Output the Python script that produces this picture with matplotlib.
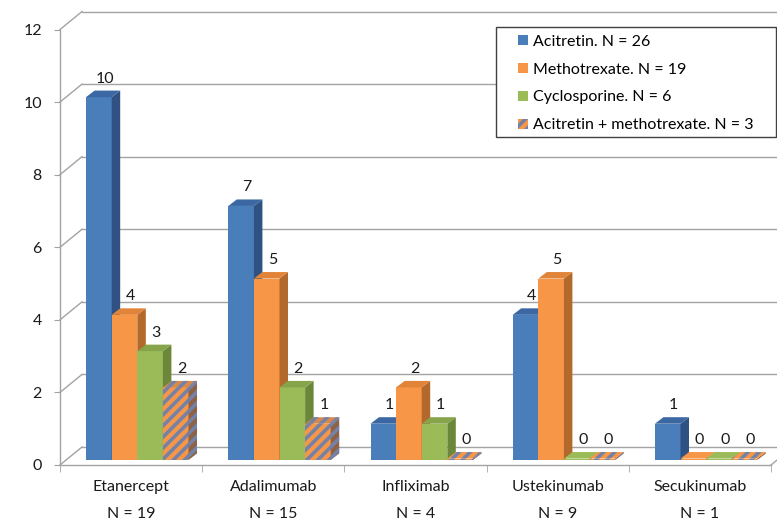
import matplotlib
matplotlib.use('Agg')
import matplotlib.pyplot as plt
from matplotlib.patches import Polygon, Patch, Rectangle

plt.rcParams['font.family'] = ['Lato', 'DejaVu Sans']
plt.rcParams['hatch.linewidth'] = 2.6

# Biologic switches by prior systemic treatment
categories = ['Etanercept', 'Adalimumab', 'Infliximab', 'Ustekinumab', 'Secukinumab']
category_n = [19, 15, 4, 9, 1]

series_names = ['Acitretin. N = 26', 'Methotrexate. N = 19',
                'Cyclosporine. N = 6', 'Acitretin + methotrexate. N = 3']
acitretin = [10, 7, 1, 4, 1]
methotrexate = [4, 5, 2, 5, 0]
cyclosporine = [3, 2, 1, 0, 0]
acitretin_mtx = [2, 1, 0, 0, 0]
series_values = [acitretin, methotrexate, cyclosporine, acitretin_mtx]

# (front, top, side) face colours per series
face_colors = [
    ('#4A7EBB', '#3B68A3', '#2F5283'),
    ('#F79646', '#E1843A', '#B3682C'),
    ('#9BBB59', '#86A44A', '#6B883A'),
    ('#F79646', '#D88A4C', '#8E6245'),
]
hatch_colors = [None, None, None, '#7482A8']

FONT = 11.5
GRID = '#A3A3A3'
TEXT = '#1A1A1A'

W, H = 777, 520
fig = plt.figure(figsize=(W / 100, H / 100), dpi=100)
ax_h = 465 - 29.5
ax = fig.add_axes([60 / W, (H - 465) / H, 711 / W, ax_h / H])
ax.set_xlim(-0.5, 4.5)
ax.set_ylim(0, 12)

px_x = 711 / 5.0     # pixels per category
px_y = ax_h / 12.0   # pixels per unit value

# pseudo-3D depth of the wall and of the columns
wall_dx, wall_dy = 22 / px_x, 18 / px_y
bar_dx, bar_dy = 8.5 / px_x, 6.5 / px_y
bar_base = 5 / px_y          # columns stand half-way back on the floor
bar_w = 25.6 / px_x
first_off = -45 / px_x

# back wall gridlines and left wall diagonals
for v in range(0, 13, 2):
    ax.plot([-0.5, -0.5 + wall_dx], [v, v + wall_dy], color=GRID, lw=1,
            clip_on=False, zorder=1)
    ax.plot([-0.5 + wall_dx, 4.5 + wall_dx], [v + wall_dy, v + wall_dy],
            color=GRID, lw=1, clip_on=False, zorder=1)
ax.plot([4.5, 4.5 + wall_dx], [0, wall_dy], color=GRID, lw=1,
        clip_on=False, zorder=1)


def add_face(pts, color, hatch_color, z):
    if hatch_color:
        p = Polygon(pts, closed=True, facecolor=color, edgecolor=hatch_color,
                    hatch='///', lw=0, zorder=z, clip_on=False)
    else:
        p = Polygon(pts, closed=True, facecolor=color, edgecolor='none',
                    lw=0, zorder=z, clip_on=False)
    ax.add_patch(p)


for i in range(len(categories)):
    for k, vals in enumerate(series_values):
        v = vals[i]
        x0 = i + first_off + k * bar_w
        x1 = x0 + bar_w
        front_c, top_c, side_c = face_colors[k]
        hc = hatch_colors[k]
        z = 3 + k * 0.1
        b = bar_base
        h = b + (v if v > 0 else 0.04)
        # front face
        add_face([(x0, b), (x1, b), (x1, h), (x0, h)], front_c, hc, z)
        # side face
        add_face([(x1, b), (x1 + bar_dx, b + bar_dy), (x1 + bar_dx, h + bar_dy),
                  (x1, h)], side_c, hc, z)
        # top face
        add_face([(x0, h), (x1, h), (x1 + bar_dx, h + bar_dy),
                  (x0 + bar_dx, h + bar_dy)], top_c if v > 0 else front_c, hc, z)
        ax.annotate(str(v), xy=(x0 + bar_w / 2, h + bar_dy),
                    xytext=(6, 12), textcoords='offset pixels',
                    ha='center', va='center', fontsize=FONT, color=TEXT,
                    zorder=5)

# axes: front vertical and floor front edge
for side in ['top', 'right']:
    ax.spines[side].set_visible(False)
for side in ['left', 'bottom']:
    ax.spines[side].set_color(GRID)
    ax.spines[side].set_linewidth(1)
    ax.spines[side].set_zorder(1)

ax.set_yticks(range(0, 13, 2))
ax.tick_params(axis='y', length=4, color=GRID, labelsize=FONT,
               labelcolor=TEXT, pad=9)

ax.set_xticks(range(len(categories)))
ax.set_xticklabels([f'{c}\nN = {n}' for c, n in zip(categories, category_n)])
ax.set_xticks([i - 0.5 for i in range(len(categories) + 1)], minor=True)
ax.tick_params(axis='x', which='major', length=0, labelsize=FONT,
               labelcolor=TEXT, pad=11)
ax.tick_params(axis='x', which='minor', length=5, color=GRID)
for lbl in ax.get_xticklabels():
    lbl.set_linespacing(2.15)

# legend with its own frame
frame = Rectangle((496 / W, 1 - 137 / H), 280 / W, 110 / H,
                  transform=fig.transFigure, facecolor='white',
                  edgecolor='#404040', lw=1, zorder=9)
fig.patches.append(frame)
handles = [Patch(facecolor=face_colors[k][0],
                 edgecolor=hatch_colors[k] if hatch_colors[k] else 'none',
                 hatch='///' if hatch_colors[k] else None, lw=0)
           for k in range(len(series_names))]
leg = fig.legend(handles, series_names, loc='upper left',
                 bbox_to_anchor=(518 / W, 1 - 35 / H), fontsize=FONT,
                 frameon=False, handlelength=0.6, handleheight=0.6,
                 handletextpad=0.35, labelspacing=0.86, borderpad=0,
                 borderaxespad=0)
leg.set_zorder(10)

fig.savefig('out.png', dpi=100)
